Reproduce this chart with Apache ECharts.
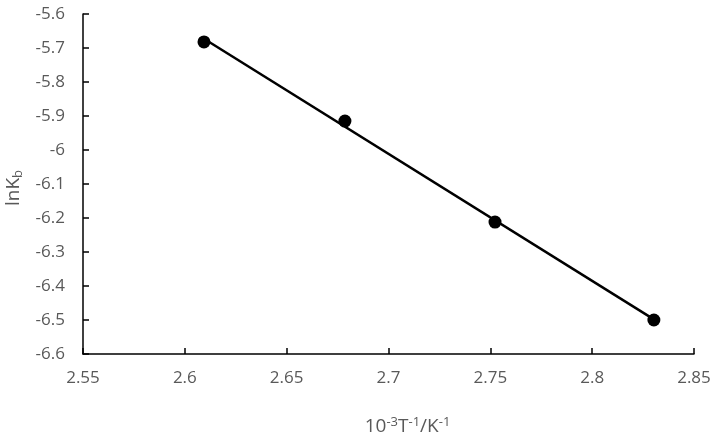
<!DOCTYPE html>
<html><head><meta charset="utf-8">
<script src="https://cdn.jsdelivr.net/npm/echarts@6/dist/echarts.min.js"></script>
<style>html,body{margin:0;padding:0;background:#fff}#c{width:714px;height:444px}</style>
</head><body><div id="c"></div>
<script>
const xValues = [2.6094, 2.6786, 2.7523, 2.8303];
const yValues = [-5.682, -5.915, -6.212, -6.500];
const xTicks = {min: 2.55, max: 2.85, interval: 0.05};
const yTicks = {min: -6.6, max: -5.6, interval: 0.1};

// least-squares trendline from the data
const n = xValues.length;
const mx = xValues.reduce((a,b)=>a+b,0)/n, my = yValues.reduce((a,b)=>a+b,0)/n;
let sxy=0, sxx=0;
for (let i=0;i<n;i++){ sxy+=(xValues[i]-mx)*(yValues[i]-my); sxx+=(xValues[i]-mx)**2; }
const slope = sxy/sxx, icpt = my - slope*mx;
const x0 = Math.min(...xValues), x1 = Math.max(...xValues);
const trend = [[x0, slope*x0+icpt],[x1, slope*x1+icpt]];

const FONT = '"Open Sans", "Liberation Sans", sans-serif';
const GRAY = '#595959';
const chart = echarts.init(document.getElementById('c'), null, {renderer:'canvas'});
chart.setOption({
  animation:false,
  backgroundColor:'#fff',
  grid:{left:83, right:20, top:14, bottom:90, containLabel:false, outerBoundsMode:'none'},
  xAxis:{
    type:'value', min:xTicks.min, max:xTicks.max, interval:xTicks.interval,
    axisLine:{lineStyle:{color:'#000', width:1.5}},
    axisTick:{inside:true, length:6, lineStyle:{color:'#000', width:1.5}},
    splitLine:{show:false},
    axisLabel:{color:GRAY, fontSize:17, fontFamily:FONT, margin:16,
      formatter:v=>String(+v.toFixed(2))},
    name:'{a|10}{s|-3}{a|T}{s|-1}{a|/K}{s|-1}',
    nameLocation:'middle', nameGap:62,
    nameTextStyle:{padding:[0,0,0,38], rich:{
      a:{fontSize:19, color:GRAY, fontFamily:FONT},
      s:{fontSize:13, color:GRAY, fontFamily:FONT, padding:[0,0,8,0]}
    }}
  },
  yAxis:{
    type:'value', min:yTicks.min, max:yTicks.max, interval:yTicks.interval,
    axisLine:{show:true, lineStyle:{color:'#000', width:1.5}},
    axisTick:{show:true, inside:true, length:6, lineStyle:{color:'#000', width:1.5}},
    splitLine:{show:false},
    axisLabel:{color:GRAY, fontSize:17, fontFamily:FONT, margin:18,
      formatter:v=>String(+v.toFixed(1))},
    name:'{a|lnK}{s|b}',
    nameLocation:'middle', nameGap:51,
    nameTextStyle:{padding:[0,8,0,0], rich:{
      a:{fontSize:19, color:GRAY, fontFamily:FONT},
      s:{fontSize:13, color:GRAY, fontFamily:FONT, padding:[9,0,0,0]}
    }}
  },
  series:[
    {type:'line', data:trend, symbol:'none', lineStyle:{color:'#000', width:2.5}, z:2},
    {type:'scatter', data:xValues.map((x,i)=>[x,yValues[i]]), symbol:'circle', symbolSize:13,
     itemStyle:{color:'#000', opacity:1}, z:3}
  ]
});
</script></body></html>
